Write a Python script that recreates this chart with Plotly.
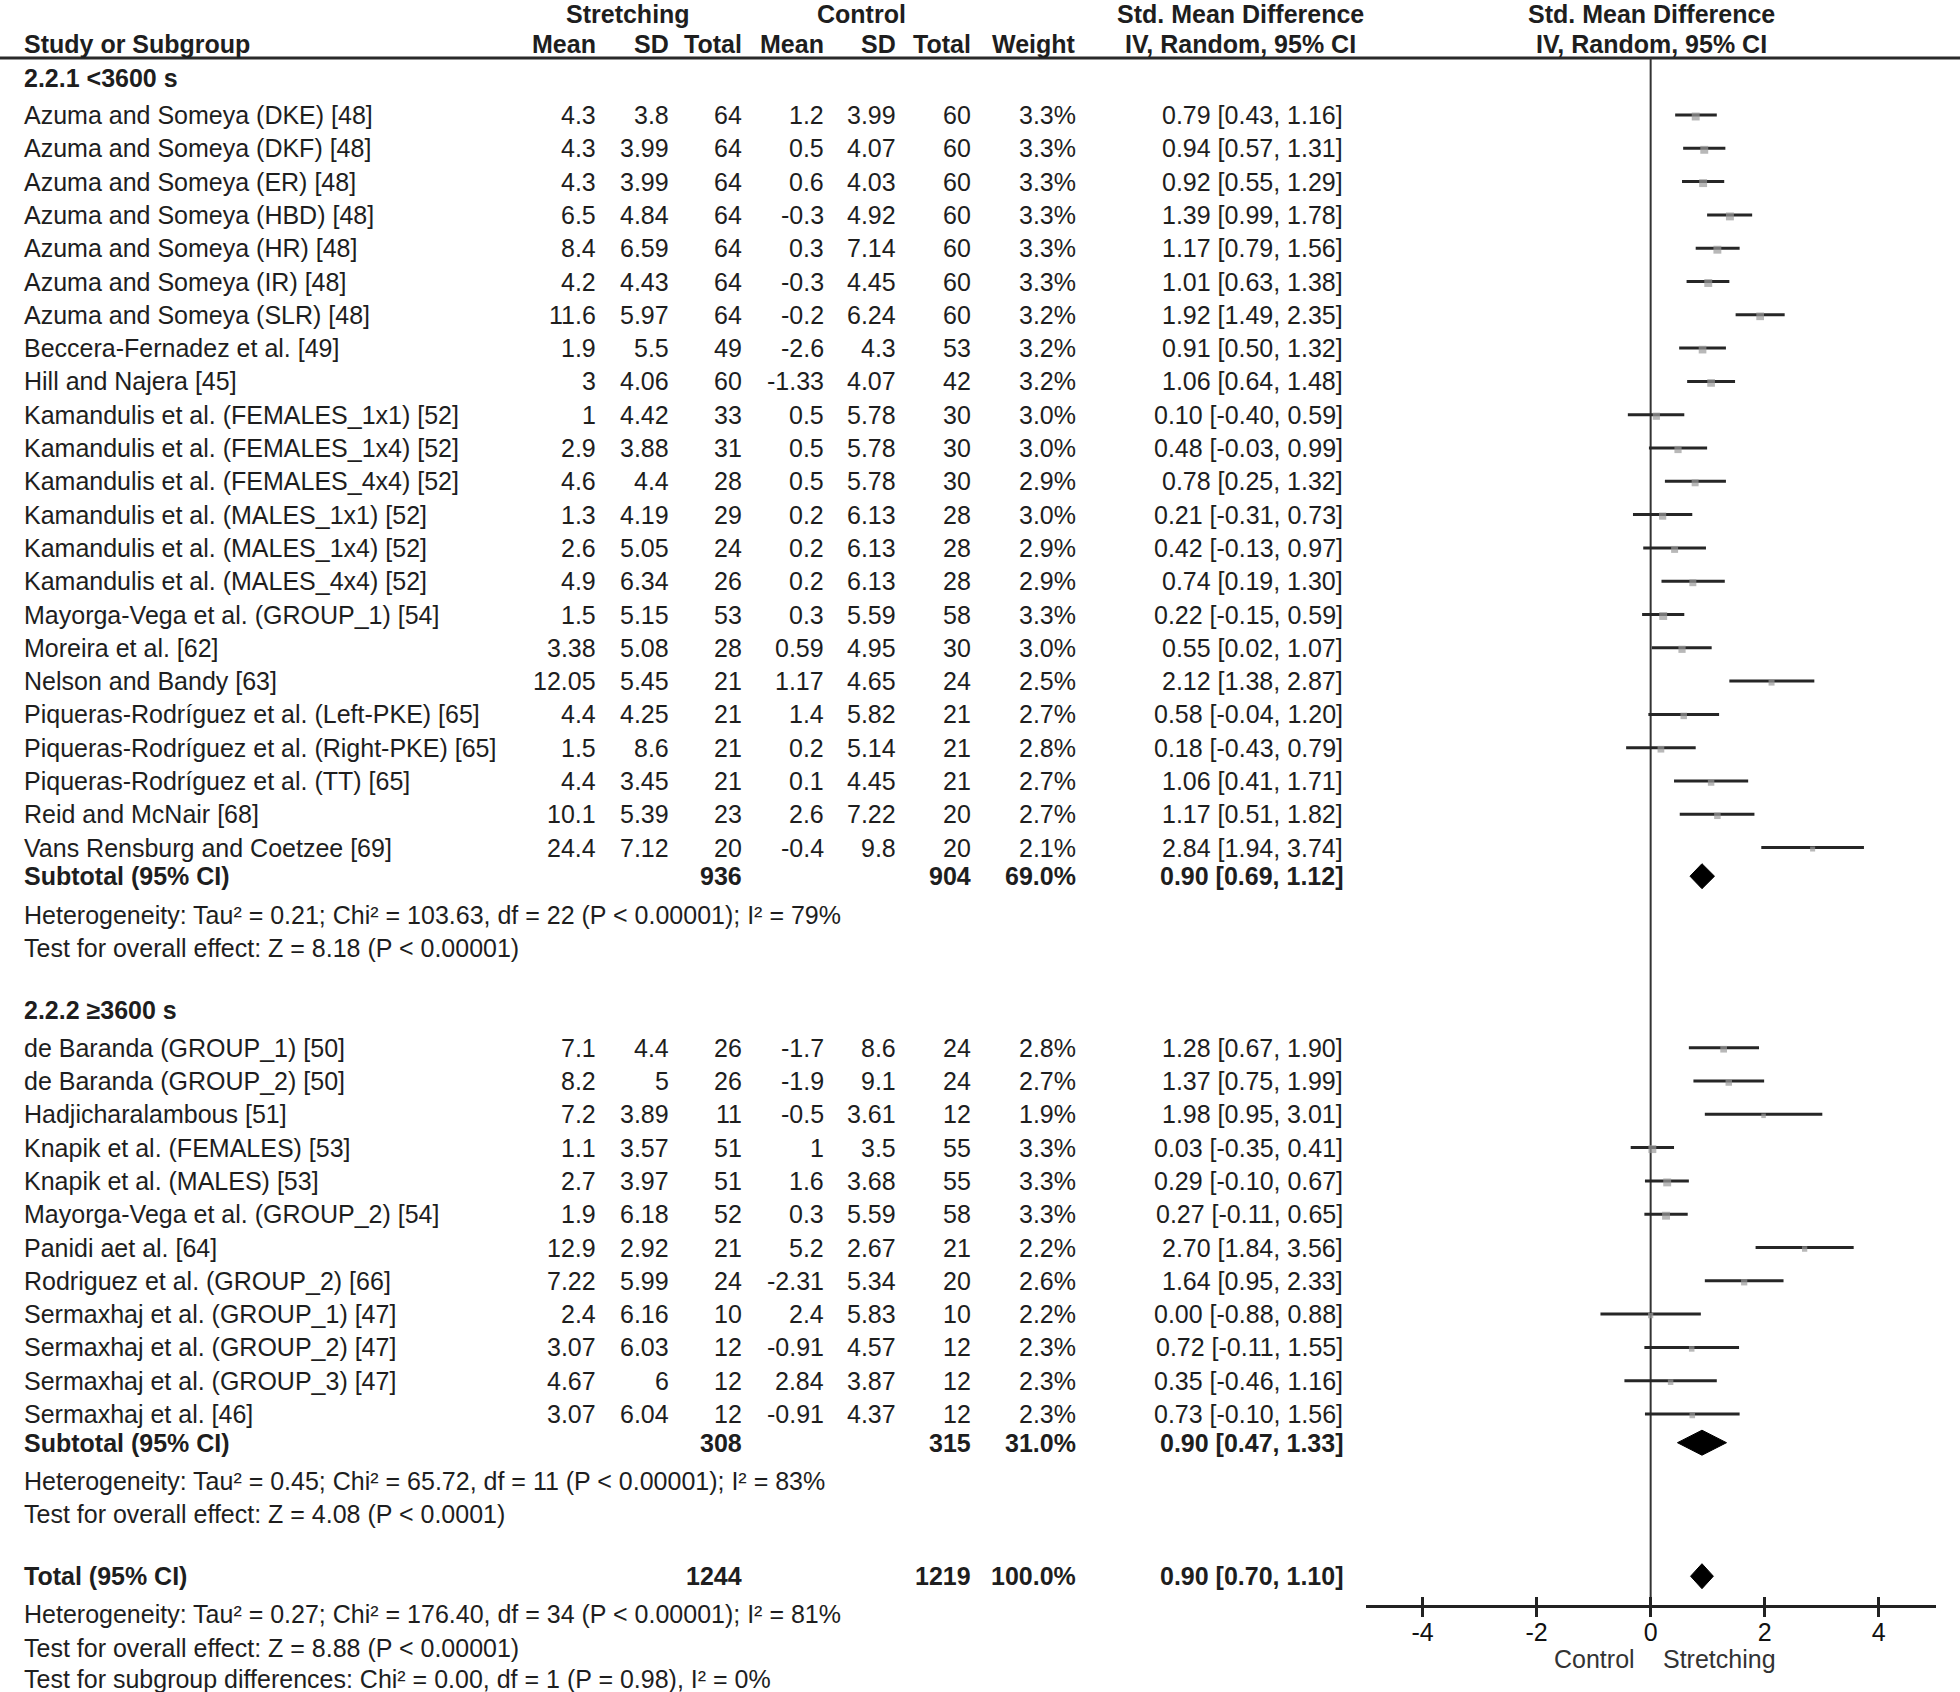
import plotly.graph_objects as go

# ---------------- data ----------------
g1_label = "2.2.1 <3600 s"
g1_study = ["Azuma and Someya (DKE) [48]", "Azuma and Someya (DKF) [48]", "Azuma and Someya (ER) [48]",
            "Azuma and Someya (HBD) [48]", "Azuma and Someya (HR) [48]", "Azuma and Someya (IR) [48]",
            "Azuma and Someya (SLR) [48]", "Beccera-Fernadez et al. [49]", "Hill and Najera [45]",
            "Kamandulis et al. (FEMALES_1x1) [52]", "Kamandulis et al. (FEMALES_1x4) [52]",
            "Kamandulis et al. (FEMALES_4x4) [52]", "Kamandulis et al. (MALES_1x1) [52]",
            "Kamandulis et al. (MALES_1x4) [52]", "Kamandulis et al. (MALES_4x4) [52]",
            "Mayorga-Vega et al. (GROUP_1) [54]", "Moreira et al. [62]", "Nelson and Bandy [63]",
            "Piqueras-Rodríguez et al. (Left-PKE) [65]", "Piqueras-Rodríguez et al. (Right-PKE) [65]",
            "Piqueras-Rodríguez et al. (TT) [65]", "Reid and McNair [68]", "Vans Rensburg and Coetzee [69]"]
g1_m1 = [4.3, 4.3, 4.3, 6.5, 8.4, 4.2, 11.6, 1.9, 3, 1, 2.9, 4.6, 1.3, 2.6, 4.9, 1.5, 3.38, 12.05, 4.4, 1.5, 4.4, 10.1, 24.4]
g1_sd1 = [3.8, 3.99, 3.99, 4.84, 6.59, 4.43, 5.97, 5.5, 4.06, 4.42, 3.88, 4.4, 4.19, 5.05, 6.34, 5.15, 5.08, 5.45, 4.25, 8.6, 3.45, 5.39, 7.12]
g1_n1 = [64, 64, 64, 64, 64, 64, 64, 49, 60, 33, 31, 28, 29, 24, 26, 53, 28, 21, 21, 21, 21, 23, 20]
g1_m2 = [1.2, 0.5, 0.6, -0.3, 0.3, -0.3, -0.2, -2.6, -1.33, 0.5, 0.5, 0.5, 0.2, 0.2, 0.2, 0.3, 0.59, 1.17, 1.4, 0.2, 0.1, 2.6, -0.4]
g1_sd2 = [3.99, 4.07, 4.03, 4.92, 7.14, 4.45, 6.24, 4.3, 4.07, 5.78, 5.78, 5.78, 6.13, 6.13, 6.13, 5.59, 4.95, 4.65, 5.82, 5.14, 4.45, 7.22, 9.8]
g1_n2 = [60, 60, 60, 60, 60, 60, 60, 53, 42, 30, 30, 30, 28, 28, 28, 58, 30, 24, 21, 21, 21, 20, 20]
g1_w = [3.3, 3.3, 3.3, 3.3, 3.3, 3.3, 3.2, 3.2, 3.2, 3.0, 3.0, 2.9, 3.0, 2.9, 2.9, 3.3, 3.0, 2.5, 2.7, 2.8, 2.7, 2.7, 2.1]
g1_smd = [0.79, 0.94, 0.92, 1.39, 1.17, 1.01, 1.92, 0.91, 1.06, 0.10, 0.48, 0.78, 0.21, 0.42, 0.74, 0.22, 0.55, 2.12, 0.58, 0.18, 1.06, 1.17, 2.84]
g1_lo = [0.43, 0.57, 0.55, 0.99, 0.79, 0.63, 1.49, 0.50, 0.64, -0.40, -0.03, 0.25, -0.31, -0.13, 0.19, -0.15, 0.02, 1.38, -0.04, -0.43, 0.41, 0.51, 1.94]
g1_hi = [1.16, 1.31, 1.29, 1.78, 1.56, 1.38, 2.35, 1.32, 1.48, 0.59, 0.99, 1.32, 0.73, 0.97, 1.30, 0.59, 1.07, 2.87, 1.20, 0.79, 1.71, 1.82, 3.74]
g1_sub = {"n1": 936, "n2": 904, "w": 69.0, "smd": 0.90, "lo": 0.69, "hi": 1.12}
g1_het = "Heterogeneity: Tau² = 0.21; Chi² = 103.63, df = 22 (P < 0.00001); I² = 79%"
g1_test = "Test for overall effect: Z = 8.18 (P < 0.00001)"

g2_label = "2.2.2 ≥3600 s"
g2_study = ["de Baranda (GROUP_1) [50]", "de Baranda (GROUP_2) [50]", "Hadjicharalambous [51]",
            "Knapik et al. (FEMALES) [53]", "Knapik et al. (MALES) [53]", "Mayorga-Vega et al. (GROUP_2) [54]",
            "Panidi aet al. [64]", "Rodriguez et al. (GROUP_2) [66]", "Sermaxhaj et al. (GROUP_1) [47]",
            "Sermaxhaj et al. (GROUP_2) [47]", "Sermaxhaj et al. (GROUP_3) [47]", "Sermaxhaj et al. [46]"]
g2_m1 = [7.1, 8.2, 7.2, 1.1, 2.7, 1.9, 12.9, 7.22, 2.4, 3.07, 4.67, 3.07]
g2_sd1 = [4.4, 5, 3.89, 3.57, 3.97, 6.18, 2.92, 5.99, 6.16, 6.03, 6, 6.04]
g2_n1 = [26, 26, 11, 51, 51, 52, 21, 24, 10, 12, 12, 12]
g2_m2 = [-1.7, -1.9, -0.5, 1, 1.6, 0.3, 5.2, -2.31, 2.4, -0.91, 2.84, -0.91]
g2_sd2 = [8.6, 9.1, 3.61, 3.5, 3.68, 5.59, 2.67, 5.34, 5.83, 4.57, 3.87, 4.37]
g2_n2 = [24, 24, 12, 55, 55, 58, 21, 20, 10, 12, 12, 12]
g2_w = [2.8, 2.7, 1.9, 3.3, 3.3, 3.3, 2.2, 2.6, 2.2, 2.3, 2.3, 2.3]
g2_smd = [1.28, 1.37, 1.98, 0.03, 0.29, 0.27, 2.70, 1.64, 0.00, 0.72, 0.35, 0.73]
g2_lo = [0.67, 0.75, 0.95, -0.35, -0.10, -0.11, 1.84, 0.95, -0.88, -0.11, -0.46, -0.10]
g2_hi = [1.90, 1.99, 3.01, 0.41, 0.67, 0.65, 3.56, 2.33, 0.88, 1.55, 1.16, 1.56]
g2_sub = {"n1": 308, "n2": 315, "w": 31.0, "smd": 0.90, "lo": 0.47, "hi": 1.33}
g2_het = "Heterogeneity: Tau² = 0.45; Chi² = 65.72, df = 11 (P < 0.00001); I² = 83%"
g2_test = "Test for overall effect: Z = 4.08 (P < 0.0001)"

total = {"n1": 1244, "n2": 1219, "w": 100.0, "smd": 0.90, "lo": 0.70, "hi": 1.10}
total_het = "Heterogeneity: Tau² = 0.27; Chi² = 176.40, df = 34 (P < 0.00001); I² = 81%"
total_test = "Test for overall effect: Z = 8.88 (P < 0.00001)"
subgroup_test = "Test for subgroup differences: Chi² = 0.00, df = 1 (P = 0.98), I² = 0%"

x_ticks = [-4, -2, 0, 2, 4]
x_ticklabels = ["-4", "-2", "0", "2", "4"]
favours_left = "Control"
favours_right = "Stretching"

# ---------------- layout constants (pixels) ----------------
W, H = 1960, 1692
FONT = "Liberation Sans, Arial, sans-serif"
FS = 25
TXT = "#1e1e1e"
X_LEFT = 22
COL = {"m1": 598, "sd1": 671, "n1": 744, "m2": 826, "sd2": 898, "n2": 973, "w": 1078, "ci": 1345}
ROW = 33.3
AXIS_Y = 1606
HEAD_LINE_Y = 58

annotations = []


def txt(x, y, s, anchor="left", bold=False, color=TXT, size=FS):
    annotations.append(dict(x=x, y=y, xref="x", yref="y", text=f"<b>{s}</b>" if bold else s,
                            showarrow=False, xanchor=anchor, yanchor="middle",
                            font=dict(family=FONT, size=size, color=color)))


def fmt(v):
    return f"{v:g}"


def ci_text(smd, lo, hi):
    return f"{smd:.2f} [{lo:.2f}, {hi:.2f}]"


# headers
y_h1 = 14
txt(628, y_h1, "Stretching", "center", True)
txt(861, y_h1, "Control", "center", True)
txt(1240, y_h1, "Std. Mean Difference", "center", True)
txt(1651, y_h1, "Std. Mean Difference", "center", True)
y_h2 = 44
txt(X_LEFT, y_h2, "Study or Subgroup", "left", True)
for key, lab in [("m1", "Mean"), ("sd1", "SD"), ("n1", "Total"), ("m2", "Mean"), ("sd2", "SD"),
                 ("n2", "Total"), ("w", "Weight")]:
    txt(COL[key], y_h2, lab, "right", True)
txt(1240, y_h2, "IV, Random, 95% CI", "center", True)
txt(1651, y_h2, "IV, Random, 95% CI", "center", True)

ci_x, ci_y, sq_x, sq_y, sq_s = [], [], [], [], []
diamonds = []


def study_rows(y0, study, m1, sd1, n1, m2, sd2, n2, w, smd, lo, hi):
    ys = []
    for i in range(len(study)):
        y = y0 + i * ROW
        ys.append(y)
        txt(X_LEFT, y, study[i])
        txt(COL["m1"], y, fmt(m1[i]), "right")
        txt(COL["sd1"], y, fmt(sd1[i]), "right")
        txt(COL["n1"], y, str(n1[i]), "right")
        txt(COL["m2"], y, fmt(m2[i]), "right")
        txt(COL["sd2"], y, fmt(sd2[i]), "right")
        txt(COL["n2"], y, str(n2[i]), "right")
        txt(COL["w"], y, f"{w[i]:.1f}%", "right")
        txt(COL["ci"], y, ci_text(smd[i], lo[i], hi[i]), "right")
        ci_x.extend([lo[i], hi[i], None])
        ci_y.extend([y, y, None])
        sq_x.append(smd[i])
        sq_y.append(y + 1.5)
        sq_s.append(w[i] * 2.4)
    return ys


def summary_row(y, label, d):
    txt(X_LEFT, y, label, "left", True)
    txt(COL["n1"], y, str(d["n1"]), "right", True)
    txt(COL["n2"], y, str(d["n2"]), "right", True)
    txt(COL["w"], y, f"{d['w']:.1f}%", "right", True)
    txt(COL["ci"], y, ci_text(d["smd"], d["lo"], d["hi"]), "right", True)
    diamonds.append((y, d["lo"], d["smd"], d["hi"]))


y = 77.5
txt(X_LEFT, y, g1_label, "left", True)
ys = study_rows(y + 37.5, g1_study, g1_m1, g1_sd1, g1_n1, g1_m2, g1_sd2, g1_n2, g1_w, g1_smd, g1_lo, g1_hi)
y = ys[-1] + 28.6
summary_row(y, "Subtotal (95% CI)", g1_sub)
y += 39
txt(X_LEFT, y, g1_het)
y += 32.5
txt(X_LEFT, y, g1_test)
y += 62.5
txt(X_LEFT, y, g2_label, "left", True)
ys = study_rows(y + 37.5, g2_study, g2_m1, g2_sd1, g2_n1, g2_m2, g2_sd2, g2_n2, g2_w, g2_smd, g2_lo, g2_hi)
y = ys[-1] + 28.7
summary_row(y, "Subtotal (95% CI)", g2_sub)
y += 38.5
txt(X_LEFT, y, g2_het)
y += 33
txt(X_LEFT, y, g2_test)
y += 62
summary_row(y, "Total (95% CI)", total)
y += 38
txt(X_LEFT, y, total_het)
y += 33.5
txt(X_LEFT, y, total_test)
y += 31.5
txt(X_LEFT, y, subgroup_test)

# favours labels
txt(1637, 1659, favours_left, "right", False, "#333333")
txt(1661, 1659, favours_right, "left", False, "#333333")

fig = go.Figure()

# header rule
fig.add_trace(go.Scatter(x=[0, W], y=[HEAD_LINE_Y, HEAD_LINE_Y], xaxis="x", yaxis="y", mode="lines",
                         line=dict(color="#2a2a2a", width=3), hoverinfo="skip", showlegend=False))
# line of no effect
fig.add_trace(go.Scatter(x=[0, 0], y=[HEAD_LINE_Y, AXIS_Y], xaxis="x2", yaxis="y", mode="lines",
                         line=dict(color="#333333", width=2), hoverinfo="skip", showlegend=False))
# confidence intervals
fig.add_trace(go.Scatter(x=ci_x, y=ci_y, xaxis="x2", yaxis="y", mode="lines",
                         line=dict(color="#262626", width=3), hoverinfo="skip", showlegend=False))
# point estimates
fig.add_trace(go.Scatter(x=sq_x, y=sq_y, xaxis="x2", yaxis="y", mode="markers",
                         marker=dict(symbol="square", size=sq_s, color="#9a9a9a", line=dict(width=0)),
                         hoverinfo="skip", showlegend=False))
# diamonds
DH = 12.5
for (yc, lo, est, hi) in diamonds:
    fig.add_trace(go.Scatter(x=[lo, est, hi, est, lo], y=[yc, yc - DH, yc, yc + DH, yc],
                             xaxis="x2", yaxis="y", mode="lines", fill="toself", fillcolor="black",
                             line=dict(color="black", width=1), hoverinfo="skip", showlegend=False))
# dummy trace for overlay axis
fig.add_trace(go.Scatter(x=[0], y=[AXIS_Y], xaxis="x3", yaxis="y", mode="markers",
                         marker=dict(opacity=0), hoverinfo="skip", showlegend=False))

dom = [1365.5 / W, 1935.8 / W]
pos = 1 - AXIS_Y / H
fig.update_layout(
    width=W, height=H, margin=dict(l=0, r=0, t=0, b=0),
    paper_bgcolor="white", plot_bgcolor="rgba(0,0,0,0)",
    annotations=annotations,
    xaxis=dict(range=[0, W], domain=[0, 1], visible=False, fixedrange=True),
    yaxis=dict(range=[H, 0], domain=[0, 1], visible=False, fixedrange=True),
    xaxis2=dict(domain=dom, range=[-5, 5], anchor="free", position=pos, showline=True,
                linecolor="#222222", linewidth=2.5, ticks="outside", ticklen=9, tickwidth=2.5,
                tickcolor="#222222", tickvals=x_ticks, ticktext=x_ticklabels, showgrid=False,
                zeroline=False, ticklabelstandoff=-6,
                tickfont=dict(family=FONT, size=FS, color="#111111")),
    xaxis3=dict(overlaying="x2", range=[-5, 5], anchor="free", position=pos, ticks="inside",
                ticklen=9, tickwidth=2.5, tickcolor="#222222", tickvals=x_ticks,
                showticklabels=False, showgrid=False, zeroline=False, showline=False),
    showlegend=False,
)

fig.write_html("out.html", config={"displayModeBar": False},
               post_script="document.body.style.margin='0';")
